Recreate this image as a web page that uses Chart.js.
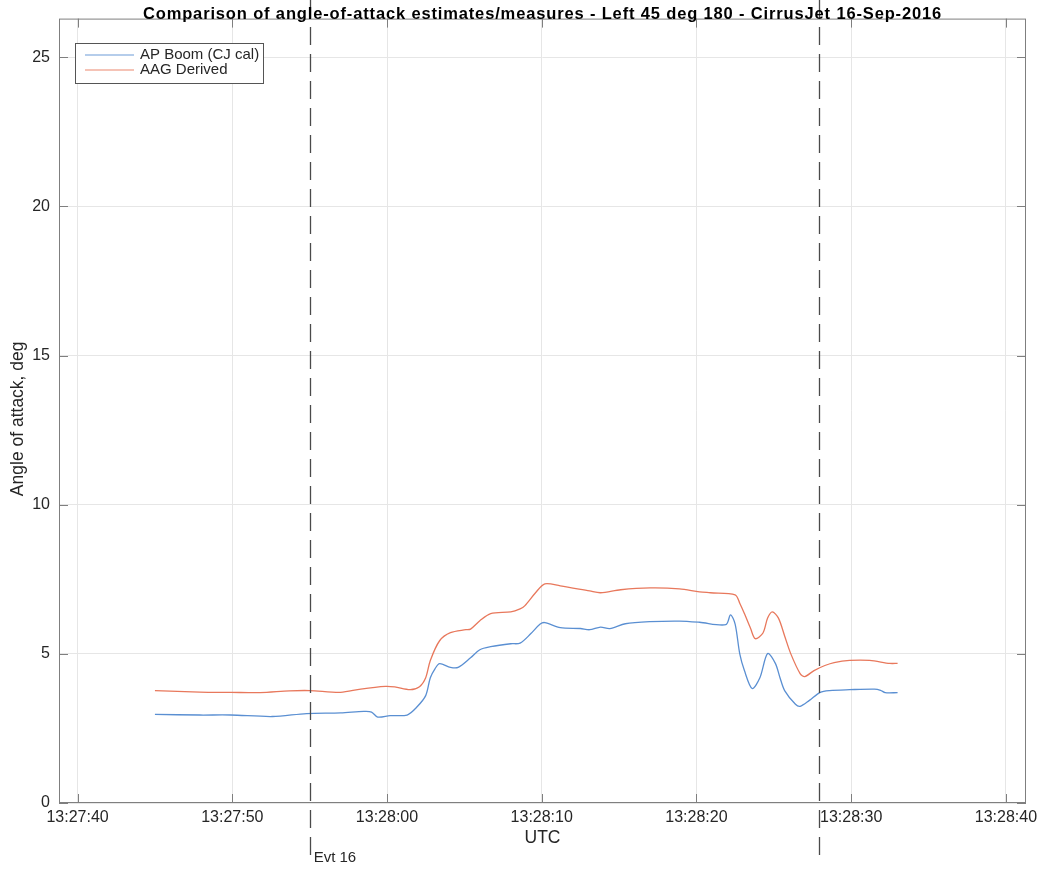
<!DOCTYPE html>
<html><head><meta charset="utf-8">
<script src="https://cdn.jsdelivr.net/npm/chart.js@4/dist/chart.umd.min.js"></script>
<style>html,body{margin:0;padding:0;background:#fff}#wrap{width:1046px;height:873px}</style>
</head><body><div id="wrap"><canvas id="c" width="1046" height="873"></canvas></div>
<script>
// Time base: 13:27:40 UTC; times are seconds after that
const baseTime = 13*3600 + 27*60 + 40;
const chartTitle = 'Comparison of angle-of-attack estimates/measures - Left 45 deg 180 - CirrusJet 16-Sep-2016';
const seriesNames = ['AP Boom (CJ cal)', 'AAG Derived'];
const xTickValues = [0, 10, 20, 30, 40, 50, 60];
const yTickValues = [0, 5, 10, 15, 20, 25];
const eventTimes = [15.0, 47.9];
const eventLabels = ['Evt 16', ''];

const boomTimes = [5.0,7.9,9.9,12.6,14.8,17.0,18.5,19.0,19.4,20.2,21.3,21.9,22.5,22.8,23.1,23.4,24.1,24.6,25.4,26.0,26.7,28.0,28.6,29.3,29.9,30.2,31.2,32.5,33.1,33.8,34.4,35.4,37.0,38.9,40.2,41.9,42.2,42.5,42.8,43.1,43.6,44.1,44.6,45.1,45.4,45.7,46.4,46.7,47.3,48.0,48.6,49.9,51.5,51.9,52.2,53.0];
const boomValues = [2.97,2.95,2.95,2.9,3.0,3.02,3.07,3.05,2.88,2.93,2.95,3.2,3.6,4.2,4.5,4.67,4.55,4.55,4.87,5.14,5.24,5.34,5.36,5.68,6.0,6.05,5.88,5.85,5.81,5.9,5.85,6.01,6.08,6.1,6.06,5.98,6.31,6.0,5.0,4.44,3.84,4.2,5.01,4.68,4.2,3.77,3.31,3.24,3.44,3.71,3.77,3.8,3.82,3.78,3.7,3.7];

const aagTimes = [5.0,7.9,9.9,11.8,13.7,15.0,17.0,18.3,19.9,20.5,21.5,22.1,22.5,22.8,23.4,24.1,25.1,25.4,26.0,26.7,28.0,28.6,28.9,29.6,30.2,31.2,33.1,33.8,35.1,37.0,38.9,40.2,40.9,42.5,42.8,43.1,43.5,43.8,44.3,44.6,44.9,45.3,45.7,46.1,46.7,47.0,47.6,48.3,48.9,49.9,51.2,52.5,53.0];
const aagValues = [3.77,3.72,3.71,3.7,3.76,3.77,3.71,3.82,3.91,3.89,3.8,3.9,4.2,4.78,5.44,5.71,5.81,5.83,6.11,6.35,6.41,6.51,6.61,7.05,7.35,7.28,7.11,7.05,7.15,7.21,7.18,7.08,7.05,6.98,6.7,6.35,5.85,5.51,5.7,6.2,6.41,6.2,5.6,5.0,4.34,4.24,4.44,4.61,4.71,4.78,4.78,4.68,4.68];

const colors = ['#5a8fd2', '#e8785c'];
const FONT = '"Liberation Sans", Arial, Helvetica, sans-serif';

function fmtTime(s){
  const t = Math.round(baseTime + s);
  const h = Math.floor(t/3600), m = Math.floor((t%3600)/60), sec = t%60;
  const p = n => String(n).padStart(2,'0');
  return h + ':' + p(m) + ':' + p(sec);
}

const decor = {
  id: 'decor',
  afterDatasetsDraw(chart){
    const ctx = chart.ctx, a = chart.chartArea, xs = chart.scales.x, ys = chart.scales.y;
    ctx.save();
    // box
    ctx.strokeStyle = '#7f7f7f'; ctx.lineWidth = 1;
    ctx.strokeRect(a.left+0.5, a.top+0.5, a.right-a.left-1, a.bottom-a.top-1);
    // inward ticks
    ctx.beginPath();
    xTickValues.forEach(v => { const px = Math.round(xs.getPixelForValue(v))+0.5;
      ctx.moveTo(px, a.bottom); ctx.lineTo(px, a.bottom-9);
      ctx.moveTo(px, a.top); ctx.lineTo(px, a.top+9); });
    yTickValues.forEach(v => { const py = Math.round(ys.getPixelForValue(v))+0.5;
      ctx.moveTo(a.left, py); ctx.lineTo(a.left+9, py);
      ctx.moveTo(a.right, py); ctx.lineTo(a.right-9, py); });
    ctx.stroke();
    // event lines
    ctx.strokeStyle = '#4a4a4a'; ctx.lineWidth = 1.3; ctx.setLineDash([18,9]);
    eventTimes.forEach((t,i) => {
      const px = Math.round(xs.getPixelForValue(t))+0.5;
      ctx.beginPath(); ctx.moveTo(px, 0); ctx.lineTo(px, 862); ctx.stroke();
    });
    ctx.setLineDash([]);
    ctx.fillStyle = '#262626'; ctx.font = '15px ' + FONT; ctx.textBaseline = 'middle'; ctx.textAlign = 'left';
    eventTimes.forEach((t,i) => {
      if (eventLabels[i]) ctx.fillText(eventLabels[i], xs.getPixelForValue(t)+4, 858);
    });
    // title
    ctx.font = 'bold 16.5px ' + FONT; ctx.textAlign = 'center';
    ctx.letterSpacing = '0.85px';
    ctx.fillStyle = '#000';
    ctx.fillText(chartTitle, (a.left+a.right)/2, 14.5);
    ctx.letterSpacing = '0px';
    // axis labels
    ctx.fillStyle = '#262626';
    ctx.font = '17.5px ' + FONT;
    ctx.fillText('UTC', (a.left+a.right)/2, 838);
    ctx.save(); ctx.translate(18, (a.top+a.bottom)/2+8); ctx.rotate(-Math.PI/2);
    ctx.fillText('Angle of attack, deg', 0, 0); ctx.restore();
    // legend
    const lx = 75.5, ly = 43.5, lw = 188, lh = 40;
    ctx.fillStyle = '#fff'; ctx.fillRect(lx, ly, lw, lh);
    ctx.strokeStyle = '#555'; ctx.lineWidth = 1; ctx.strokeRect(lx, ly, lw, lh);
    ctx.font = '15px ' + FONT; ctx.textAlign = 'left';
    seriesNames.forEach((n,i) => {
      const yy = 55 + i*15;
      ctx.strokeStyle = colors[i]; ctx.globalAlpha = 0.6; ctx.lineWidth = 1.3;
      ctx.beginPath(); ctx.moveTo(85, yy); ctx.lineTo(134, yy); ctx.stroke();
      ctx.globalAlpha = 1; ctx.fillStyle = '#262626';
      ctx.fillText(n, 140, yy);
    });
    ctx.restore();
  }
};

new Chart(document.getElementById('c'), {
  type: 'line',
  data: {
    datasets: [
      { label: seriesNames[0], data: boomTimes.map((t,i)=>({x:t,y:boomValues[i]})), borderColor: colors[0], borderWidth: 1.3, pointRadius: 0, tension: 0.3, fill:false },
      { label: seriesNames[1], data: aagTimes.map((t,i)=>({x:t,y:aagValues[i]})), borderColor: colors[1], borderWidth: 1.3, pointRadius: 0, tension: 0.3, fill:false }
    ]
  },
  options: {
    responsive: false, animation: false,
    layout: { padding: { top: 16, right: 20, left: 0, bottom: 0 } },
    plugins: { legend: { display: false }, title: { display: false }, tooltip: { enabled: false } },
    scales: {
      x: {
        type: 'linear', min: -1.2, max: 61.3,
        afterBuildTicks: s => { s.ticks = xTickValues.map(v => ({ value: v })); },
        afterFit: s => { s.height = 70; },
        grid: { color: '#e6e6e6', drawTicks: false },
        border: { display: false },
        ticks: { callback: v => fmtTime(v), font: { family: FONT, size: 16 }, color: '#262626', padding: 5, maxRotation: 0, autoSkip: false }
      },
      y: {
        min: 0, max: 26.3,
        afterBuildTicks: s => { s.ticks = yTickValues.map(v => ({ value: v })); },
        afterFit: s => { s.width = 59; },
        grid: { color: '#e6e6e6', drawTicks: false },
        border: { display: false },
        ticks: { font: { family: FONT, size: 16 }, color: '#262626', padding: 9 }
      }
    }
  },
  plugins: [decor]
});
</script></body></html>
